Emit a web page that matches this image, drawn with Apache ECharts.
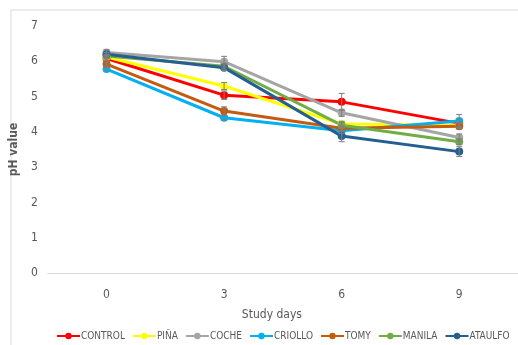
<!DOCTYPE html>
<html><head><meta charset="utf-8">
<script src="https://cdn.jsdelivr.net/npm/echarts@6/dist/echarts.min.js"></script>
<style>html,body{margin:0;padding:0;background:#fff}#c{width:518px;height:345px}</style>
</head><body><div id="c"></div>
<script>
const days = ['0', '3', '6', '9'];
const yTicks = [0, 1, 2, 3, 4, 5, 6, 7];
const names = ['CONTROL', 'PIÑA', 'COCHE', 'CRIOLLO', 'TOMY', 'MANILA', 'ATAULFO'];
const colors = ['#FF0000', '#FFFF00', '#A5A5A5', '#00B0F0', '#C55A11', '#70AD47', '#255E91'];
const control = [6.08, 5.04, 4.85, 4.24];
const pina    = [6.12, 5.30, 4.22, 4.19];
const coche   = [6.25, 5.99, 4.54, 3.84];
const criollo = [5.78, 4.40, 4.03, 4.31];
const tomy    = [5.92, 4.59, 4.10, 4.16];
const manila  = [6.15, 5.86, 4.19, 3.72];
const ataulfo = [6.20, 5.82, 3.88, 3.44];
const errControl = [0.05, 0.12, 0.24, 0.10];
const errPina    = [0.05, 0.10, 0.08, 0.08];
const errCoche   = [0.08, 0.15, 0.10, 0.10];
const errCriollo = [0.05, 0.06, 0.08, 0.18];
const errTomy    = [0.05, 0.12, 0.08, 0.08];
const errManila  = [0.05, 0.08, 0.08, 0.08];
const errAtaulfo = [0.05, 0.08, 0.16, 0.14];

const values = [control, pina, coche, criollo, tomy, manila, ataulfo];
const errs = [errControl, errPina, errCoche, errCriollo, errTomy, errManila, errAtaulfo];
const font = '"DejaVu Sans Condensed", "Liberation Sans Narrow", "Open Sans", sans-serif';

const series = [];
names.forEach((n, i) => {
  series.push({
    name: n, type: 'line', data: values[i],
    symbol: 'circle', symbolSize: 8,
    lineStyle: { width: 3, color: colors[i] },
    itemStyle: { color: colors[i] },
    z: 2
  });
});
const errData = [];
values.forEach((vals, i) => vals.forEach((v, j) => errData.push([j, v, errs[i][j]])));
series.push({
  type: 'custom', z: 5, silent: true, legendHoverLink: false,
  data: errData,
  renderItem: function (params, api) {
    const x = api.value(0), v = api.value(1), e = api.value(2);
    const top = api.coord([x, v + e]);
    const bot = api.coord([x, v - e]);
    const w = 3;
    const st = { stroke: '#7f7f7f', lineWidth: 1 };
    return { type: 'group', children: [
      { type: 'line', shape: { x1: top[0], y1: top[1], x2: bot[0], y2: bot[1] }, style: st },
      { type: 'line', shape: { x1: top[0]-w, y1: top[1], x2: top[0]+w, y2: top[1] }, style: st },
      { type: 'line', shape: { x1: bot[0]-w, y1: bot[1], x2: bot[0]+w, y2: bot[1] }, style: st }
    ]};
  }
});

const chart = echarts.init(document.getElementById('c'));
chart.setOption({
  animation: false,
  graphic: [{ type: 'rect', shape: { x: 11, y: 10, width: 530, height: 360 },
    style: { fill: 'none', stroke: '#d9d9d9', lineWidth: 1 }, silent: true }],
  grid: { left: 46, top: 26, width: 475, height: 247 },
  xAxis: {
    type: 'category', data: days, boundaryGap: true,
    name: 'Study days', nameLocation: 'middle', nameGap: 36,
    nameTextStyle: { color: '#595959', fontSize: 12, fontFamily: font, padding: [0, 22, 0, 0] },
    axisLine: { lineStyle: { color: '#d9d9d9' } },
    axisTick: { show: false },
    axisLabel: { color: '#595959', fontSize: 12, fontFamily: font, margin: 16 }
  },
  yAxis: {
    type: 'value', min: 0, max: 7, interval: 1,
    name: 'pH value', nameLocation: 'middle', nameGap: 18,
    nameTextStyle: { color: '#595959', fontSize: 12, fontWeight: 'bold', fontFamily: font },
    axisLine: { show: false }, axisTick: { show: false },
    splitLine: { show: false },
    axisLabel: { color: '#595959', fontSize: 12, fontFamily: font, margin: 10,
      formatter: v => yTicks.includes(v) ? String(v) : '' }
  },
  legend: {
    data: names, bottom: 4, left: 56, width: 600, padding: 0,
    itemGap: 7, itemWidth: 23, itemHeight: 8,
    textStyle: { color: '#595959', fontSize: 10, fontFamily: font, padding: [0, 0, 0, -4] }
  },
  series: series
});
</script></body></html>
